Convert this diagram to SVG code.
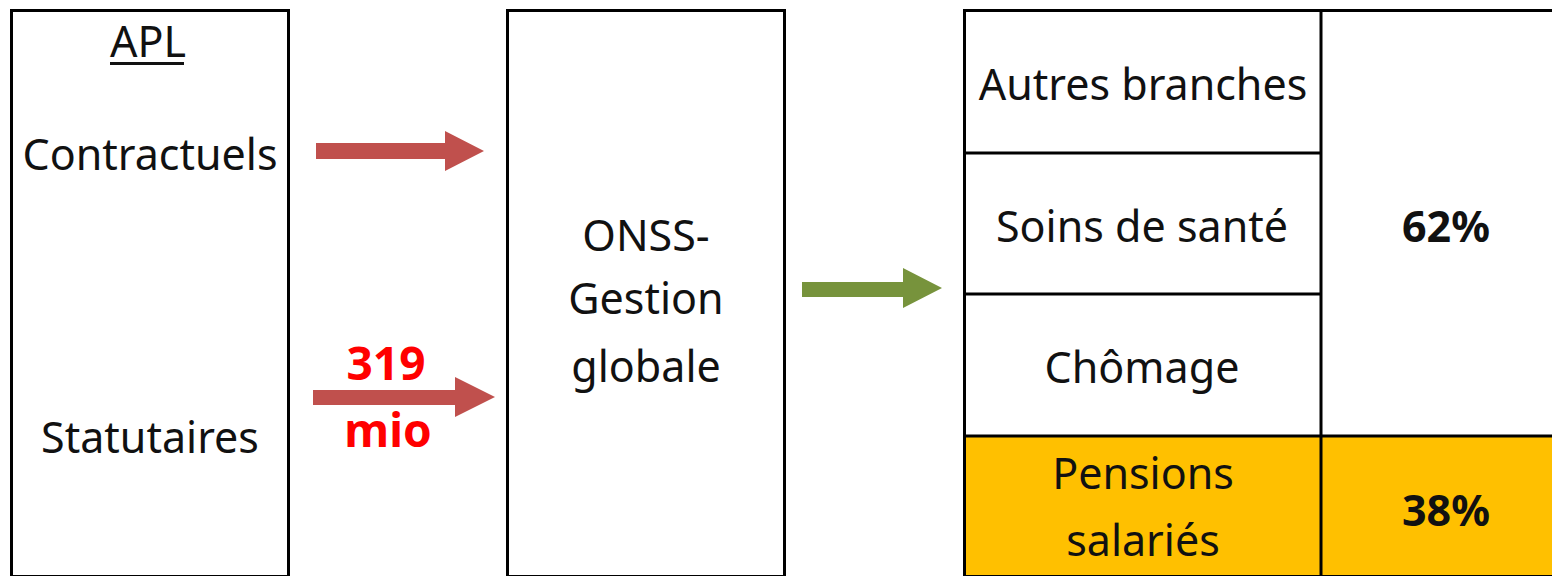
<svg xmlns="http://www.w3.org/2000/svg" width="1552" height="576" viewBox="0 0 1552 576">
<style>
.box{fill:#ffffff;stroke:#000000;stroke-width:3}
.t{font-family:"Noto Sans","Open Sans",sans-serif;font-size:43px;fill:#111111;text-anchor:middle}
.b{font-family:"Noto Sans","Open Sans",sans-serif;font-size:43px;font-weight:bold;fill:#111111;text-anchor:middle}
.r{font-family:"Noto Sans","Open Sans",sans-serif;font-size:46px;font-weight:bold;fill:#ff0000;text-anchor:middle}
.red{fill:#c0504d}
.green{fill:#77933c}
</style>
<rect width="1552" height="576" fill="#ffffff"/>
<g id="apl">
<rect class="box" x="11.5" y="10.5" width="277" height="566"/>
<text class="t" x="148" y="57">APL</text>
<rect x="110" y="62" width="74" height="3" fill="#111111"/>
<text class="t" x="150" y="170">Contractuels</text>
<text class="t" x="150" y="453">Statutaires</text>
</g>
<g id="onss">
<rect class="box" x="507.5" y="10.5" width="277" height="566"/>
<text class="t" x="646" y="251">ONSS-</text>
<text class="t" x="646" y="314">Gestion</text>
<text class="t" x="646" y="382">globale</text>
</g>
<g id="branches">
<rect x="964" y="436" width="600" height="142" fill="#ffc000"/>
<rect class="box" x="964.5" y="10.5" width="600" height="566" style="fill:none"/>
<line x1="1321" y1="10" x2="1321" y2="578" stroke="#000" stroke-width="3"/>
<line x1="964" y1="153" x2="1321" y2="153" stroke="#000" stroke-width="3"/>
<line x1="964" y1="294" x2="1321" y2="294" stroke="#000" stroke-width="3"/>
<line x1="964" y1="436" x2="1552" y2="436" stroke="#000" stroke-width="3"/>
<text class="t" x="1143" y="100">Autres branches</text>
<text class="t" x="1142" y="242">Soins de santé</text>
<text class="t" x="1142" y="383">Chômage</text>
<text class="t" x="1143" y="489">Pensions</text>
<text class="t" x="1143" y="556">salariés</text>
<text class="b" x="1446" y="242">62%</text>
<text class="b" x="1446" y="526">38%</text>
</g>
<g id="connectors">
<polygon class="red" points="316,143 445,143 445,131 484,151 445,171 445,159 316,159"/>
<polygon class="red" points="313,390 455,390 455,377 495,397 455,417 455,405 313,405"/>
<polygon class="green" points="802,282 903,282 903,268 942,288 903,308 903,297 802,297"/>
<text class="r" x="386" y="380">319</text>
<text class="r" x="388" y="447">mio</text>
</g>
</svg>
